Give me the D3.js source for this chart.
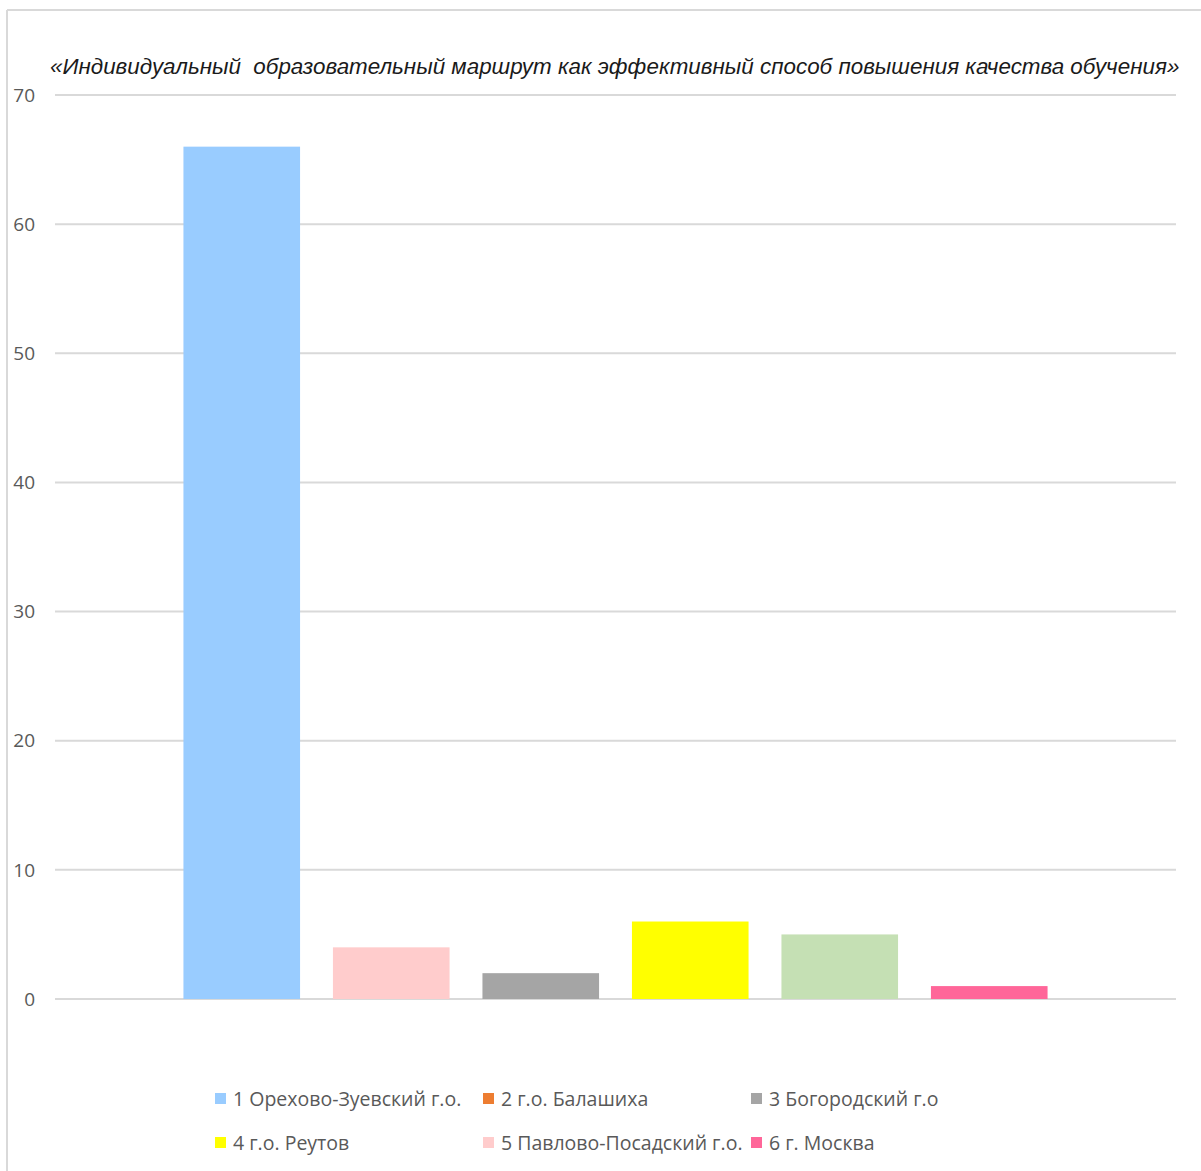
<!DOCTYPE html>
<html><head><meta charset="utf-8">
<script src="https://cdn.jsdelivr.net/npm/d3@7/dist/d3.min.js"></script>
<style>body{margin:0;background:#fff}svg{display:block}</style>
</head><body>
<script>
const title = "«Индивидуальный  образовательный маршрут как эффективный способ повышения качества обучения»";
const categories = ["1","2","3","4","5","6"];
const values = [66, 4, 2, 6, 5, 1];
const barColors = ["#99CCFF","#FFCCCC","#A5A5A5","#FFFF00","#C5E0B4","#FF6699"];
const yTicks = [0,10,20,30,40,50,60,70];
const legendLabels = ["1 Орехово-Зуевский г.о.","2 г.о. Балашиха","3 Богородский г.о","4 г.о. Реутов","5 Павлово-Посадский г.о.","6 г. Москва"];
const legendColors = ["#99CCFF","#ED7D31","#A5A5A5","#FFFF00","#FFCCCC","#FF6699"];

const W = 1201, H = 1171;
const svg = d3.select("body").append("svg").attr("width", W).attr("height", H);

// frame
svg.append("line").attr("x1",7).attr("x2",7).attr("y1",10).attr("y2",H).attr("stroke","#D9D9D9").attr("stroke-width",2);
svg.append("line").attr("x1",7).attr("x2",W).attr("y1",10).attr("y2",10).attr("stroke","#D9D9D9").attr("stroke-width",2);

const y = d3.scaleLinear().domain([0,70]).range([999, 95]);
const x = d3.scaleBand().domain(categories).range([167, 1064]).paddingInner(0.22).paddingOuter(0.11);

// gridlines
svg.append("g").selectAll("line").data(yTicks).join("line")
  .attr("x1",55).attr("x2",1176)
  .attr("y1",d=>y(d)).attr("y2",d=>y(d))
  .attr("stroke","#D9D9D9").attr("stroke-width",2);

// y labels
svg.append("g").selectAll("text").data(yTicks).join("text")
  .attr("x",35).attr("y",d=>y(d)).attr("dy","0.35em")
  .attr("text-anchor","end")
  .attr("font-family","'Open Sans', sans-serif").attr("font-size",19)
  .attr("fill","#595959").text(d=>d);

// bars
svg.append("g").selectAll("rect").data(values).join("rect")
  .attr("x",(d,i)=>x(categories[i]))
  .attr("width",x.bandwidth())
  .attr("y",d=>y(d)).attr("height",d=>y(0)-y(d))
  .attr("fill",(d,i)=>barColors[i]);

// title (font size fitted to target width)
const t = svg.append("text").attr("x",50).attr("y",74)
  .attr("font-family","'Liberation Sans Narrow', 'Liberation Sans', Arial, sans-serif").attr("font-style","italic")
  .attr("font-size",24).attr("fill","#1a1a1a")
  .style("white-space","pre")
  .text(title);
const tw = t.node().getComputedTextLength();
if (tw > 0) t.attr("font-size", Math.min(26, 24 * 1130 / tw));

// legend
const colX = [215, 483, 751];
const rowY = [1099, 1143];
const lg = svg.append("g").selectAll("g").data(legendLabels).join("g")
  .attr("transform",(d,i)=>`translate(${colX[i%3]},${rowY[Math.floor(i/3)]})`);
lg.append("rect").attr("x",0).attr("y",-6).attr("width",11).attr("height",11)
  .attr("fill",(d,i)=>legendColors[i]);
lg.append("text").attr("x",18).attr("y",0).attr("dy","0.35em")
  .attr("font-family","'Open Sans', sans-serif").attr("font-size",19.5)
  .attr("fill","#595959").text(d=>d);
</script>
</body></html>
